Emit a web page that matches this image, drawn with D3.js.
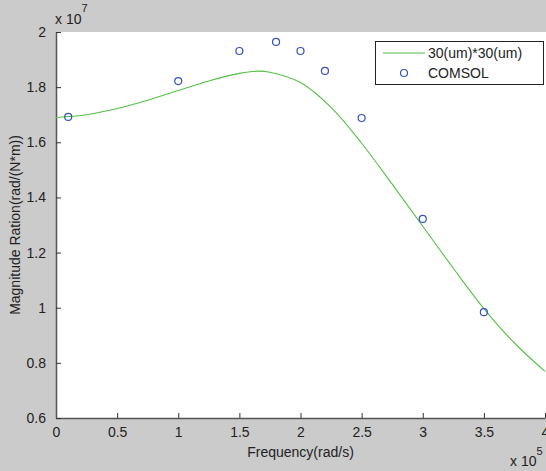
<!DOCTYPE html>
<html>
<head>
<meta charset="utf-8">
<script src="https://cdn.jsdelivr.net/npm/d3@7"></script>
<style>
  html, body { margin: 0; padding: 0; background: #cbcbcb; }
  svg { display: block; }
  text { font-family: "Liberation Sans", Arial, sans-serif; fill: #222; }
</style>
</head>
<body>
<svg id="chart" width="546" height="471"></svg>
<script>
// Frequency in units of 1e5 rad/s, magnitude in units of 1e7
const curveX = [0, 0.25, 0.5, 0.75, 1.0, 1.25, 1.5, 1.65, 1.75, 2.0, 2.25, 2.5, 2.75, 3.0, 3.25, 3.5, 3.75, 4.0];
const curveY = [1.690, 1.700, 1.7225, 1.7525, 1.7875, 1.8225, 1.850, 1.858, 1.854, 1.8165, 1.7265, 1.5965, 1.448, 1.2955, 1.143, 0.997, 0.872, 0.769];
const comsolX = [0.1, 1.0, 1.5, 1.8, 2.0, 2.2, 2.5, 3.0, 3.5];
const comsolY = [1.692, 1.822, 1.931, 1.964, 1.931, 1.859, 1.688, 1.322, 0.984];
const xTicks = [0, 0.5, 1, 1.5, 2, 2.5, 3, 3.5, 4];
const yTicks = [0.6, 0.8, 1, 1.2, 1.4, 1.6, 1.8, 2];
const seriesNames = ["30(um)*30(um)", "COMSOL"];

const svg = d3.select("#chart");
const L = 56, R = 545, T = 32, B = 418;

const x = d3.scaleLinear().domain([0, 4]).range([L, R]);
const y = d3.scaleLinear().domain([0.6, 2]).range([B, T]);

svg.append("rect").attr("x", L).attr("y", T).attr("width", R - L + 5).attr("height", B - T).attr("fill", "#fff");

// axes
const xAxis = d3.axisBottom(x).tickValues(xTicks).tickSizeInner(-5).tickSizeOuter(0).tickPadding(9)
  .tickFormat(d => String(d));
const gx = svg.append("g").attr("transform", `translate(0,${B})`).call(xAxis);
const yAxis = d3.axisLeft(y).tickValues(yTicks).tickSizeInner(-5).tickSizeOuter(0).tickPadding(10)
  .tickFormat(d => String(d));
const gy = svg.append("g").attr("transform", `translate(${L},0)`).call(yAxis);
[gx, gy].forEach(g => {
  g.select(".domain").attr("stroke", "#555").attr("stroke-width", 1.5);
  g.selectAll(".tick line").attr("stroke", "#333");
  g.selectAll(".tick text").attr("font-size", 14).attr("fill", "#222")
    .attr("font-family", "Liberation Sans, Arial, sans-serif");
});

// curve
const line = d3.line().x((d, i) => x(curveX[i])).y(d => y(d)).curve(d3.curveCatmullRom.alpha(0.5));
svg.append("path").attr("d", line(curveY)).attr("fill", "none")
  .attr("stroke", "#55c046").attr("stroke-width", 1.1);

// COMSOL points
svg.append("g").selectAll("circle").data(comsolY).join("circle")
  .attr("cx", (d, i) => x(comsolX[i])).attr("cy", d => y(d)).attr("r", 3.5)
  .attr("fill", "none").attr("stroke", "#3552c0").attr("stroke-width", 1.2);

// exponent labels
const e7 = svg.append("text").attr("x", 55).attr("y", 24).attr("font-size", 14);
e7.append("tspan").text("x 10");
e7.append("tspan").attr("dy", -12).attr("font-size", 11).text("7");
const e5 = svg.append("text").attr("x", 510).attr("y", 466).attr("font-size", 14);
e5.append("tspan").text("x 10");
e5.append("tspan").attr("dy", -11).attr("font-size", 11).text("5");

// axis labels
svg.append("text").attr("x", (L + R) / 2).attr("y", 457).attr("text-anchor", "middle")
  .attr("font-size", 14).text("Frequency(rad/s)");
svg.append("text").attr("transform", `translate(20,${(T + B) / 2}) rotate(-90)`)
  .attr("text-anchor", "middle").attr("font-size", 14).text("Magnitude Ration(rad/(N*m))");

// legend
const lg = svg.append("g");
lg.append("rect").attr("x", 375.5).attr("y", 41.5).attr("width", 168).attr("height", 43)
  .attr("fill", "#fff").attr("stroke", "#222").attr("stroke-width", 1);
lg.append("line").attr("x1", 383).attr("x2", 425).attr("y1", 53).attr("y2", 53)
  .attr("stroke", "#55c046").attr("stroke-width", 1.1);
lg.append("circle").attr("cx", 404).attr("cy", 73).attr("r", 3.5)
  .attr("fill", "none").attr("stroke", "#3552c0").attr("stroke-width", 1.2);
lg.selectAll("text.lt").data(seriesNames).join("text").attr("class", "lt")
  .attr("x", 428).attr("y", (d, i) => 58 + i * 20).attr("font-size", 14).text(d => d);
</script>
</body>
</html>
